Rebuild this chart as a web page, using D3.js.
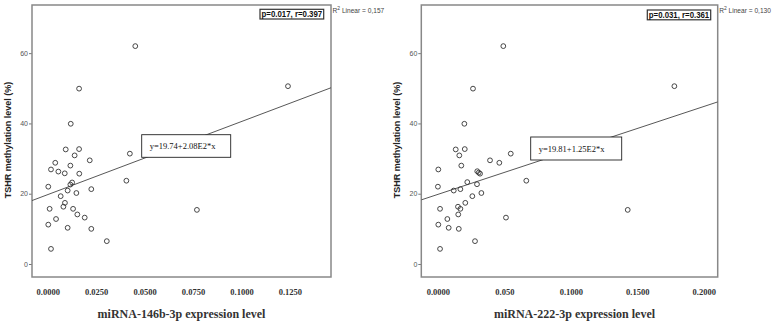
<!DOCTYPE html>
<html>
<head>
<meta charset="utf-8">
<script src="https://cdn.jsdelivr.net/npm/d3@7"></script>
<style>
  body { margin: 0; background: #fff; }
  svg { display: block; }
</style>
</head>
<body>
<div id="chart"></div>
<script>
/* DATA */
// miRNA-146b-3p panel
const mir146bExpr = [0.0093, 0.0162, 0.0139, 0.0039, 0.0117, 0.0217, 0.0424, 0.0017, 0.0055, 0.0088,
  0.0163, 0.0003, 0.0126, 0.0117, 0.0103, 0.0148, 0.0225, 0.0406, 0.0067, 0.0089,
  0.0081, 0.0010, 0.0131, 0.0153, 0.0191, 0.0043, 0.0003, 0.0103, 0.0225, 0.0305,
  0.0017, 0.0770, 0.0452, 0.0162, 0.0119, 0.1240];
const mir146bMeth = [32.6, 32.7, 30.9, 28.8, 28.0, 29.5, 31.4, 26.9, 26.3, 25.8,
  25.7, 22.0, 23.2, 22.6, 20.9, 20.2, 21.3, 23.7, 19.3, 17.4,
  16.3, 15.7, 15.7, 14.1, 13.2, 12.8, 11.2, 10.3, 10.0, 6.5,
  4.3, 15.4, 62.0, 49.9, 39.9, 50.6];

// miRNA-222-3p panel
const mir222Expr = [0.0134, 0.0202, 0.0161, 0.0548, 0.0392, 0.0462, 0.0176, 0.0003, 0.0296, 0.0307,
  0.0317, 0.0665, 0.0221, 0.0294, 0.0000, 0.0119, 0.0169, 0.0327, 0.0259, 0.0206,
  0.0151, 0.0169, 0.0016, 0.0153, 0.0071, 0.0512, 0.0003, 0.0081, 0.0157, 0.0279,
  0.0016, 0.1428, 0.0492, 0.0264, 0.0199, 0.1779];
const mir222Meth = [32.6, 32.7, 30.9, 31.4, 29.5, 28.8, 28.0, 26.9, 26.4, 26.0,
  25.7, 23.7, 23.3, 22.7, 22.0, 20.9, 21.3, 20.2, 19.3, 17.4,
  16.3, 15.7, 15.7, 14.1, 12.8, 13.2, 11.2, 10.3, 10.0, 6.5,
  4.3, 15.4, 62.0, 49.9, 39.9, 50.6];

const yTicks = [0, 20, 40, 60];
const xTicks146 = [0, 0.025, 0.05, 0.075, 0.1, 0.125];
const xLabels146 = ["0.0000", "0.0250", "0.0500", "0.0750", "0.1000", "0.1250"];
const xTicks222 = [0, 0.05, 0.1, 0.15, 0.2];
const xLabels222 = ["0.0000", "0.050", "0.1000", "0.1500", "0.2000"];

const fitIntercept = [19.74, 19.81];
const fitSlope = [208, 125];
const equations = ["y=19.74+2.08E2*x", "y=19.81+1.25E2*x"];
const stats = ["p=0.017, r=0.397", "p=0.031, r=0.361"];
const r2 = ["0,157", "0,130"];
const xTitles = ["miRNA-146b-3p expression level", "miRNA-222-3p expression level"];
const yTitle = "TSHR methylation level (%)";

/* LAYOUT */
const width = 776, height = 326;
const plotTop = 5, plotBottom = 277;

const panels = [
  { x: mir146bExpr, y: mir146bMeth, xDomain: [-0.0081, 0.1462], left: 32, right: 331,
    ticks: xTicks146, labels: xLabels146, eqBox: [141.7, 134.7, 89, 22.6], statBox: [260, 9.3, 63.7, 9.7] },
  { x: mir222Expr, y: mir222Meth, xDomain: [-0.0125, 0.2105], left: 421.3, right: 717.7,
    ticks: xTicks222, labels: xLabels222, eqBox: [530.7, 137, 91, 23], statBox: [647.3, 10, 63.4, 9.8] }
];

const svg = d3.select("#chart")
  .append("svg")
  .attr("width", width)
  .attr("height", height);

const y = d3.scaleLinear()
  .domain([-3.7, 73.7])
  .range([plotBottom, plotTop]);

panels.forEach((p, i) => {
  const x = d3.scaleLinear()
    .domain(p.xDomain)
    .range([p.left, p.right]);

  const g = svg.append("g");

  // y axis ticks + labels
  const yAxis = d3.axisLeft(y).tickValues(yTicks).tickSize(3).tickSizeOuter(0);
  g.append("g")
    .attr("transform", `translate(${p.left},0)`)
    .call(yAxis)
    .call(a => a.select(".domain").remove())
    .call(a => a.selectAll("line").attr("stroke", "#777"))
    .call(a => a.selectAll("text")
      .attr("x", -4)
      .attr("fill", "#555")
      .style("font-family", "'Liberation Sans', Arial, sans-serif")
      .style("font-size", "7px"));

  // x axis labels
  const xAxis = d3.axisBottom(x).tickValues(p.ticks)
    .tickFormat((d, j) => p.labels[j]).tickSize(0);
  g.append("g")
    .attr("transform", `translate(0,${plotBottom})`)
    .call(xAxis)
    .call(a => a.select(".domain").remove())
    .call(a => a.selectAll("text")
      .attr("y", 12)
      .attr("fill", "#333")
      .style("font-family", "'Liberation Serif', 'Times New Roman', serif")
      .style("font-weight", "bold")
      .style("font-size", "8.5px"));

  // frame
  g.append("rect")
    .attr("x", p.left)
    .attr("y", plotTop)
    .attr("width", p.right - p.left)
    .attr("height", plotBottom - plotTop)
    .attr("fill", "none")
    .attr("stroke", "#888")
    .attr("stroke-width", 1.5);

  // fit line
  const clipId = "clip" + i;
  g.append("clipPath").attr("id", clipId)
    .append("rect")
    .attr("x", p.left).attr("y", plotTop)
    .attr("width", p.right - p.left).attr("height", plotBottom - plotTop);

  g.append("line")
    .attr("clip-path", `url(#${clipId})`)
    .attr("x1", x(p.xDomain[0]))
    .attr("y1", y(fitIntercept[i] + fitSlope[i] * p.xDomain[0]))
    .attr("x2", x(p.xDomain[1]))
    .attr("y2", y(fitIntercept[i] + fitSlope[i] * p.xDomain[1]))
    .attr("stroke", "#444")
    .attr("stroke-width", 0.9);

  // points
  const pts = p.x.map((v, j) => ({ ex: v, me: p.y[j] }));
  g.selectAll("circle.pt")
    .data(pts)
    .join("circle")
    .attr("class", "pt")
    .attr("cx", d => x(d.ex))
    .attr("cy", d => y(d.me))
    .attr("r", 2.4)
    .attr("fill", "none")
    .attr("stroke", "#333")
    .attr("stroke-width", 0.9);

  // equation box
  const [ex, ey, ew, eh] = p.eqBox;
  g.append("rect")
    .attr("x", ex).attr("y", ey).attr("width", ew).attr("height", eh)
    .attr("fill", "#fff")
    .attr("stroke", "#222")
    .attr("stroke-width", 0.9);
  g.append("text")
    .text(equations[i])
    .attr("x", ex + 8)
    .attr("y", ey + eh / 2 + 3)
    .style("font-family", "'Liberation Serif', 'Times New Roman', serif")
    .style("font-size", "8.5px")
    .attr("fill", "#111");

  // stats box
  const [sx, sy, sw, sh] = p.statBox;
  g.append("rect")
    .attr("x", sx).attr("y", sy).attr("width", sw).attr("height", sh)
    .attr("fill", "#fff")
    .attr("stroke", "#333")
    .attr("stroke-width", 1.2);
  g.append("text")
    .text(stats[i])
    .attr("x", sx + 1.5)
    .attr("y", sy + sh - 2)
    .attr("textLength", sw - 3)
    .attr("lengthAdjust", "spacingAndGlyphs")
    .style("font-family", "'Liberation Sans', Arial, sans-serif")
    .style("font-weight", "bold")
    .style("font-size", "8.5px")
    .attr("fill", "#111");

  // R2 label
  const r2Text = g.append("text")
    .attr("x", p.right + 1.5)
    .attr("y", 13)
    .style("font-family", "'Liberation Sans', Arial, sans-serif")
    .style("font-size", "6.6px")
    .attr("fill", "#444");
  r2Text.append("tspan").text("R");
  r2Text.append("tspan").text("2").attr("dy", -3).style("font-size", "5px");
  r2Text.append("tspan").text(" Linear = " + r2[i]).attr("dy", 3);

  // axis titles
  g.append("text")
    .text(xTitles[i])
    .attr("x", (p.left + p.right) / 2 + (i === 0 ? 0 : 5))
    .attr("y", 318)
    .attr("text-anchor", "middle")
    .style("font-family", "'Liberation Serif', 'Times New Roman', serif")
    .style("font-weight", "bold")
    .style("font-size", "12px")
    .attr("fill", "#333");

  g.append("text")
    .text(yTitle)
    .attr("transform", `translate(${p.left - 21},140) rotate(-90)`)
    .attr("text-anchor", "middle")
    .style("font-family", "'Liberation Sans', Arial, sans-serif")
    .style("font-weight", "bold")
    .style("font-size", "9px")
    .attr("fill", "#222");
});
</script>
</body>
</html>
